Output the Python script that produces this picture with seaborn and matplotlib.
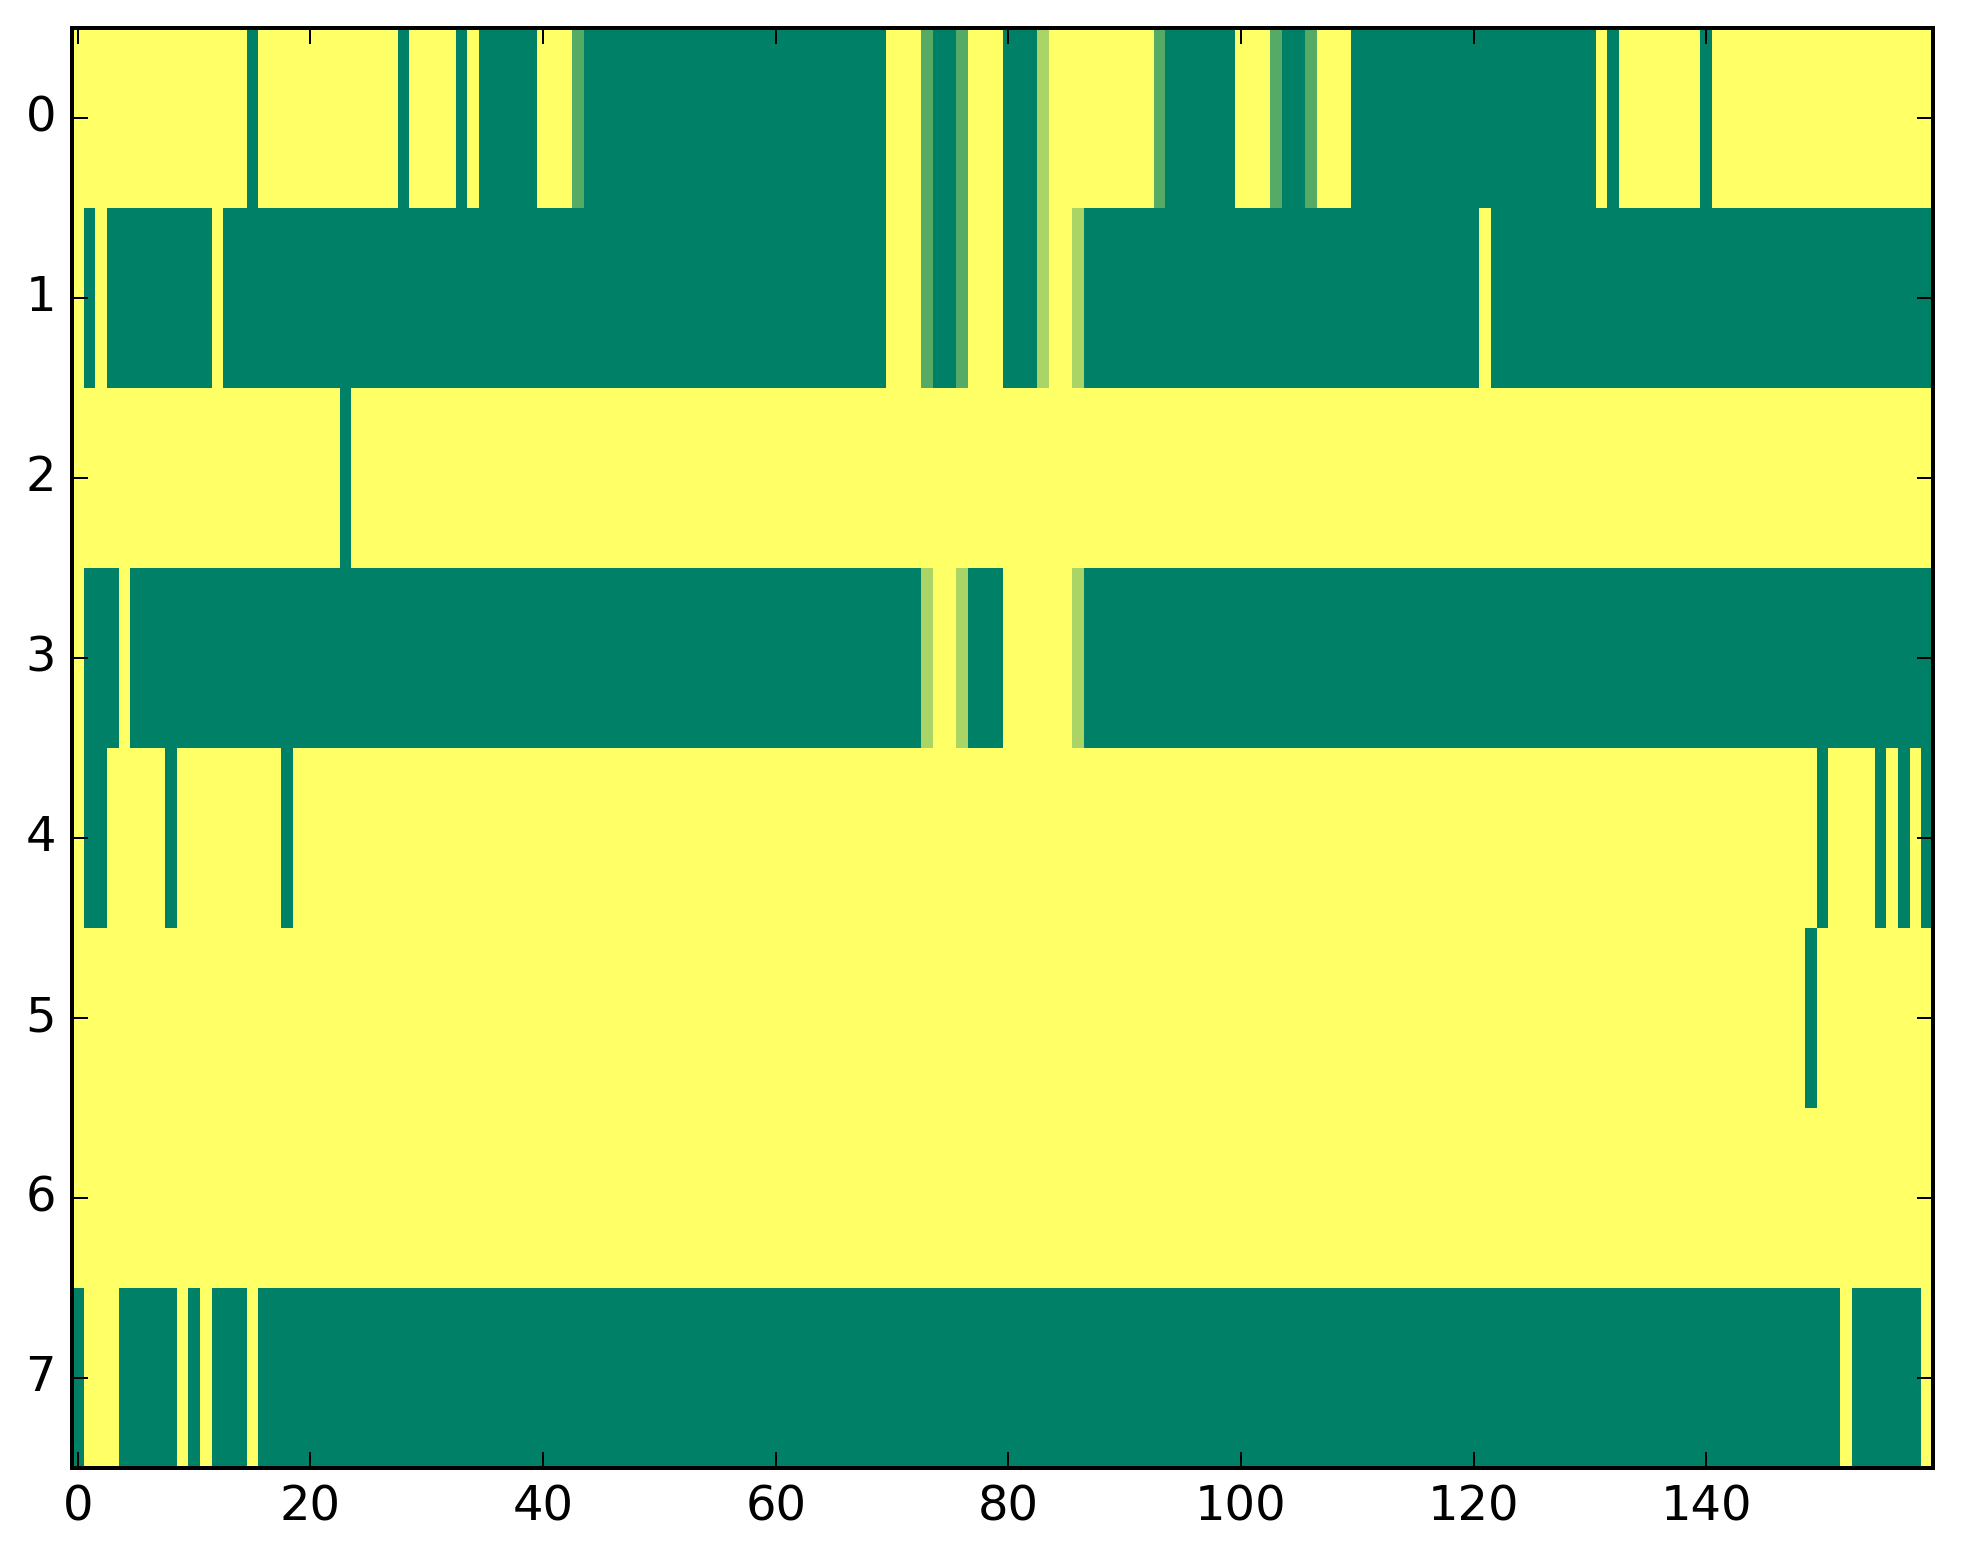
import numpy as np
import matplotlib
matplotlib.use("Agg")
import matplotlib.pyplot as plt
import seaborn as sns

# Cell levels: 0 = dark green, 1 = 1/3, 2 = 2/3, 3 = yellow (values are level/3)
row0 = [3]*15 + [0] + [3]*12 + [0] + [3]*4 + [0] + [3] + [0]*5 + [3]*3 + [1] + [0]*26 + \
       [3]*3 + [1] + [0]*2 + [1] + [3]*3 + [0]*3 + [2] + [3]*9 + [1] + [0]*6 + [3]*3 + [1] + \
       [0]*2 + [1] + [3]*3 + [0]*21 + [3] + [0] + [3]*7 + [0] + [3]*19
row1 = [3] + [0] + [3] + [0]*9 + [3] + [0]*57 + [3]*3 + [1] + [0]*2 + [1] + [3]*3 + [0]*3 + \
       [2] + [3]*2 + [2] + [0]*34 + [3] + [0]*38
row2 = [3]*23 + [0] + [3]*136
row3 = [3] + [0]*3 + [3] + [0]*68 + [2] + [3]*2 + [2] + [0]*3 + [3]*6 + [2] + [0]*73
row4 = [3] + [0]*2 + [3]*5 + [0] + [3]*9 + [0] + [3]*131 + [0] + [3]*4 + [0] + [3] + [0] + [3] + [0]
row5 = [3]*149 + [0] + [3]*10
row6 = [3]*160
row7 = [0] + [3]*3 + [0]*5 + [3] + [0] + [3] + [0]*3 + [3] + [0]*136 + [3] + [0]*6 + [3]

rows = [row0, row1, row2, row3, row4, row5, row6, row7]
row_labels = [str(i) for i in range(8)]
x_tick_values = [0, 20, 40, 60, 80, 100, 120, 140]

data = np.array(rows, dtype=float) / 3.0

plt.style.use("classic")
plt.rcParams["font.family"] = ["DejaVu Sans"]
plt.rcParams["font.size"] = 12

fig = plt.figure(figsize=(1963/288, 1564/288), dpi=288, facecolor="white")
ax = fig.add_axes([0.0367, 0.0614, 0.9847-0.0367, 0.9824-0.0614])

sns.heatmap(data, ax=ax, cmap="summer", vmin=0, vmax=1, cbar=False,
            linewidths=0, rasterized=True)

for s in ax.spines.values():
    s.set_visible(True)
    s.set_color("black")
    s.set_linewidth(1.0)

ax.set_xticks([v + 0.5 for v in x_tick_values])
ax.set_xticklabels([str(v) for v in x_tick_values], rotation=0)
ax.set_yticks([i + 0.5 for i in range(len(rows))])
ax.set_yticklabels(row_labels, rotation=0)
ax.tick_params(axis="both", which="major", direction="in", length=4, width=0.5,
               top=True, right=True, bottom=True, left=True, labelsize=12,
               pad=4, colors="black")
ax.set_xlabel("")
ax.set_ylabel("")

fig.savefig("out.png", dpi=288, facecolor="white")
